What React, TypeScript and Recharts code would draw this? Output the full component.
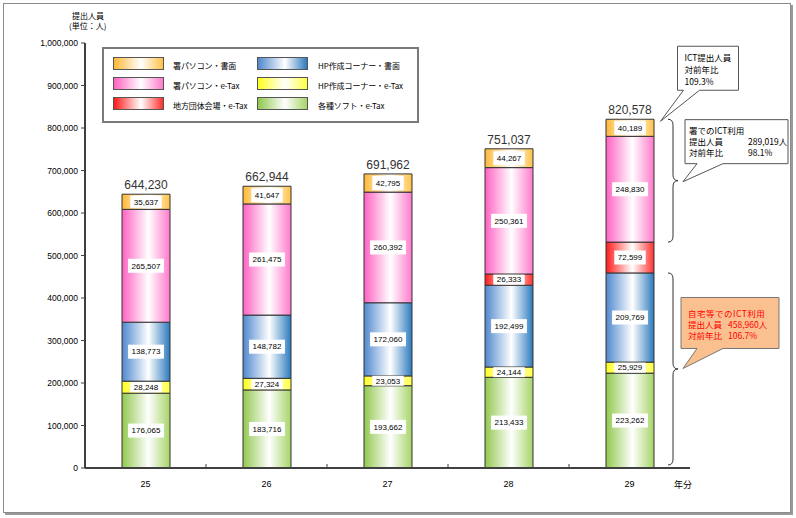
import React from 'react';
import { BarChart, Bar, XAxis, YAxis, LabelList, ReferenceArea, ReferenceDot, Legend } from 'recharts';

// ---- data ----
const years = ['25', '26', '27', '28', '29'];
const softETax = [176065, 183716, 193662, 213433, 223262];      // 各種ソフト・e-Tax
const hpETax = [28248, 27324, 23053, 24144, 25929];             // HP作成コーナー・e-Tax
const hpPaper = [138773, 148782, 172060, 192499, 209769];       // HP作成コーナー・書面
const localETax = [0, 0, 0, 26333, 72599];                      // 地方団体会場・e-Tax
const officePcETax = [265507, 261475, 260392, 250361, 248830];  // 署パソコン・e-Tax
const officePcPaper = [35637, 41647, 42795, 44267, 40189];      // 署パソコン・書面
const yTicks = [0, 100000, 200000, 300000, 400000, 500000, 600000, 700000, 800000, 900000, 1000000];

const seriesNames = {
  soft: '各種ソフト・e-Tax',
  hpETax: 'HP作成コーナー・e-Tax',
  hpPaper: 'HP作成コーナー・書面',
  local: '地方団体会場・e-Tax',
  pcETax: '署パソコン・e-Tax',
  pcPaper: '署パソコン・書面',
};

const data = years.map((y, i) => ({
  year: y,
  soft: softETax[i],
  hpETax: hpETax[i],
  hpPaper: hpPaper[i],
  local: localETax[i],
  pcETax: officePcETax[i],
  pcPaper: officePcPaper[i],
  total: softETax[i] + hpETax[i] + hpPaper[i] + localETax[i] + officePcETax[i] + officePcPaper[i],
}));

const last = data.length - 1;
const prev = data.length - 2;
const homeICT = (i: number) => softETax[i] + hpETax[i] + hpPaper[i];
const officeICT = (i: number) => officePcETax[i] + officePcPaper[i];
const localTop = homeICT(last) + localETax[last];

// ---- styles ----
const FONT = "'Liberation Sans', Arial, 'Noto Sans CJK JP', sans-serif";
const JP = "'Noto Sans CJK JP', 'Liberation Sans', sans-serif";
const colors: Record<string, [string, string]> = {
  soft: ['#92C84E', '#A6D468'],
  hpETax: ['#FFFF20', '#FFFF40'],
  hpPaper: ['#4F88CE', '#2C7ABE'],
  local: ['#FF1A1A', '#FF3030'],
  pcETax: ['#FF62C2', '#FF7ACC'],
  pcPaper: ['#FFB836', '#FFC248'],
};
const order = ['soft', 'hpETax', 'hpPaper', 'local', 'pcETax', 'pcPaper'];
const fmt = (v: number) => v.toLocaleString('en-US');

const SegLabel = (props: any) => {
  const { x, y, width, height, value } = props;
  if (!value) return null;
  const cx = Number(x) + Number(width) / 2;
  const cy = Number(y) + Number(height) / 2;
  const s = fmt(Number(value));
  const w = s.length * 4.4 + 5;
  const h = Math.min(14, Math.max(10, Math.abs(Number(height)) - 3));
  return (
    <g>
      <rect x={cx - w / 2} y={cy - h / 2} width={w} height={h} fill="#fff" />
      <text x={cx} y={cy} dy="0.35em" textAnchor="middle" fontSize={8} fontFamily={FONT} fill="#000">{s}</text>
    </g>
  );
};

const TotalLabel = (props: any) => {
  const { x, y, width, value } = props;
  return (
    <text x={Number(x) + Number(width) / 2} y={Number(y) - 5} textAnchor="middle" fontSize={12} fontFamily={FONT} fill="#333">
      {fmt(Number(value))}
    </text>
  );
};

const XTick = (props: any) => {
  const { x, y, payload, index } = props;
  const half = payload && payload.offset ? payload.offset : 60.4;
  return (
    <g>
      <text x={x} y={y + 19} textAnchor="middle" fontSize={9} fontFamily={FONT} fill="#000">{payload.value}</text>
      {index > 0 && <line x1={x - half} x2={x - half} y1={y} y2={y - 4} stroke="#404040" strokeWidth={1} />}
    </g>
  );
};

const bracePath = (xr: number, y0: number, y1: number) => {
  const xe = xr - 22, xs = xr - 17, xt = xr - 12, r = 6;
  const ym = (y0 + y1) / 2;
  return `M${xe},${y0} Q${xs},${y0} ${xs},${y0 + r} L${xs},${ym - r} Q${xs},${ym} ${xt},${ym} Q${xs},${ym} ${xs},${ym + r} L${xs},${y1 - r} Q${xs},${y1} ${xe},${y1}`;
};

const TwoCol = ({ x, x2, y, a, b, fill, ls }: any) => (
  <text y={y} fontSize={8.5} fontFamily={JP} fill={fill} letterSpacing={ls}>
    <tspan x={x}>{a}</tspan>
    {b !== undefined && <tspan x={x2}>{b}</tspan>}
  </text>
);

const UpperBrace = (props: any) => {
  const { x, y, width, height } = props;
  const xr = x + width;
  const ym = y + height / 2;
  const bx0 = xr - 5, bx1 = xr + 98, by0 = ym - 61, by1 = ym - 17;
  const tx = bx0 + 4, tx2 = bx0 + 63;
  return (
    <g>
      <path d={bracePath(xr, y, y + height)} fill="none" stroke="#333" strokeWidth={1} />
      <path d={`M${bx0},${by0} H${bx1} V${by1} H${xr + 33} L${xr - 7},${ym + 1} L${xr + 7},${by1} H${bx0} Z`} fill="#fff" stroke="#555" strokeWidth={1} />
      <TwoCol x={tx} y={by0 + 14} a="署でのICT利用" fill="#000" />
      <TwoCol x={tx} x2={tx2} y={by0 + 25} a="提出人員" b={`${fmt(officeICT(last))}人`} fill="#000" />
      <TwoCol x={tx} x2={tx2} y={by0 + 36} a="対前年比" b={`${((officeICT(last) / officeICT(prev)) * 100).toFixed(1)}%`} fill="#000" />
    </g>
  );
};

const LowerBrace = (props: any) => {
  const { x, y, width, height } = props;
  const xr = x + width;
  const ym = y + height / 2;
  const bx0 = xr - 9, bx1 = xr + 89, by0 = ym - 73, by1 = ym - 22;
  const tx = bx0 + 7, tx2 = bx0 + 47;
  return (
    <g>
      <path d={bracePath(xr, y, y + height - 3)} fill="none" stroke="#333" strokeWidth={1} />
      <path d={`M${bx0},${by0} H${bx1} V${by1} H${xr + 33} L${xr - 7},${ym - 2} L${xr + 7},${by1} H${bx0} Z`} fill="#FAC090" stroke="#777" strokeWidth={1} />
      <TwoCol x={tx} y={by0 + 20} a="自宅等でのICT利用" fill="#FF0000" ls={0.5} />
      <TwoCol x={tx} x2={tx2} y={by0 + 31} a="提出人員" b={`${fmt(homeICT(last))}人`} fill="#FF0000" />
      <TwoCol x={tx} x2={tx2} y={by0 + 42} a="対前年比" b={`${((homeICT(last) / homeICT(prev)) * 100).toFixed(1)}%`} fill="#FF0000" />
    </g>
  );
};

const TopCallout = (props: any) => {
  const { cx, cy } = props;
  const bx0 = cx + 48, bx1 = cx + 109, by0 = cy - 73, by1 = cy - 29;
  const lines = ['ICT提出人員', '対前年比', `${((data[last].total / data[prev].total) * 100).toFixed(1)}%`];
  return (
    <g>
      <path d={`M${bx0},${by0} H${bx1} V${by1} H${bx0 + 22} L${cx + 31},${cy + 2} L${bx0 + 6},${by1} H${bx0} Z`} fill="#fff" stroke="#555" strokeWidth={1} />
      {lines.map((t, i) => (
        <text key={i} x={bx0 + 7} y={by0 + 15 + i * 12} fontSize={8.5} fontFamily={JP} fill="#000">{t}</text>
      ))}
    </g>
  );
};

const legendLayout = [
  ['pcPaper', 'hpPaper'],
  ['pcETax', 'hpETax'],
  ['local', 'soft'],
];

const swatchBg = (k: string) => `linear-gradient(to right, ${colors[k][0]} 0%, #ffffff 55%, ${colors[k][1]} 100%)`;

const LegendBox = () => (
  <div style={{ position: 'relative', width: 317, height: 76, border: '2px solid #7a7a7a', background: '#fff', boxSizing: 'border-box' }}>
    {legendLayout.map((row, r) =>
      row.map((k, c) => (
        <React.Fragment key={k}>
          <div style={{ position: 'absolute', left: c === 0 ? 9 : 153, top: 8 + r * 20, width: 51, height: 13, background: swatchBg(k), border: '1px solid #555', boxSizing: 'border-box' }} />
          <div style={{ position: 'absolute', left: c === 0 ? 69 : 214, top: 11 + r * 20, fontSize: 8, lineHeight: '12px', fontFamily: JP, color: '#000', whiteSpace: 'nowrap', letterSpacing: -0.1 }}>
            {(seriesNames as any)[k]}
          </div>
        </React.Fragment>
      ))
    )}
  </div>
);

export default function App() {
  return (
    <div style={{ position: 'absolute', left: 0, top: 0, width: 796, height: 518, background: '#fff', fontFamily: FONT }}>
      <div style={{ position: 'absolute', left: 3, top: 3, width: 786, height: 508, border: '1px solid #8a8a8a', boxShadow: '2px 2px 0 #9a9a9a' }} />
      <div style={{ position: 'absolute', left: 69, top: 11, fontSize: 8, lineHeight: '10px', fontFamily: JP, color: '#000' }}>
        <div style={{ paddingLeft: 3 }}>提出人員</div>
        <div>(単位：人)</div>
      </div>
      <div style={{ position: 'absolute', left: 674, top: 478, fontSize: 9, fontFamily: JP, color: '#000' }}>年分</div>
      <div style={{ position: 'absolute', left: 0, top: 0 }}>
        <BarChart width={796} height={518} data={data} margin={{ top: 43, right: 106, bottom: 20, left: 0 }} barSize={48}>
          <defs>
            {order.map((k) => (
              <linearGradient key={k} id={`g_${k}`} x1="0" y1="0" x2="1" y2="0">
                <stop offset="0%" stopColor={colors[k][0]} />
                <stop offset="55%" stopColor="#ffffff" />
                <stop offset="100%" stopColor={colors[k][1]} />
              </linearGradient>
            ))}
          </defs>
          <ReferenceArea fill="none" stroke="#555" strokeWidth={1} ifOverflow="visible" />
          <XAxis dataKey="year" height={30} tickLine={false} tickSize={0} tickMargin={0} axisLine={{ stroke: '#404040', strokeWidth: 2 }} tick={<XTick />} interval={0} />
          <YAxis
            domain={[0, 1000000]}
            ticks={yTicks}
            width={85}
            tickFormatter={fmt}
            tick={{ fontSize: 8.5, fill: '#000', fontFamily: FONT }}
            tickLine={{ stroke: '#404040' }}
            tickSize={4}
            tickMargin={3}
            axisLine={{ stroke: '#404040', strokeWidth: 2 }}
            interval={0}
          />
          <Legend layout="vertical" align="center" verticalAlign="middle" wrapperStyle={{ left: 102, top: 47, width: 317, height: 76 }} content={() => <LegendBox />} />
          {order.map((k) => (
            <Bar key={k} dataKey={k} name={(seriesNames as any)[k]} stackId="a" fill={`url(#g_${k})`} stroke="#333" strokeWidth={1} isAnimationActive={false}>
              <LabelList dataKey={k} content={<SegLabel />} />
              {k === 'pcPaper' && <LabelList dataKey="total" content={<TotalLabel />} />}
            </Bar>
          ))}
          <ReferenceArea y1={localTop} y2={data[last].total} fill="none" ifOverflow="visible" shape={<UpperBrace />} />
          <ReferenceArea y1={0} y2={homeICT(last)} fill="none" ifOverflow="visible" shape={<LowerBrace />} />
          <ReferenceDot x={years[last]} y={data[last].total} ifOverflow="visible" shape={<TopCallout />} />
        </BarChart>
      </div>
    </div>
  );
}
